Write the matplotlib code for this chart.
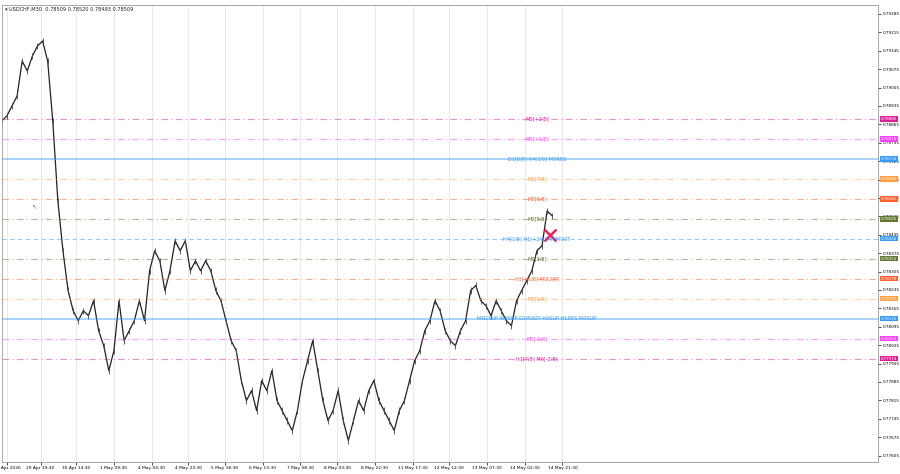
import matplotlib.pyplot as plt
import numpy as np

closes = [0.78878, 0.78897, 0.78935, 0.78973, 0.79106, 0.79068, 0.79125, 0.79163, 0.79182, 0.79106,
          0.78878, 0.78574, 0.78384, 0.78233, 0.78156, 0.78118, 0.78156, 0.78137, 0.78194, 0.78080,
          0.78023, 0.77928, 0.78004, 0.78194, 0.78042, 0.78080, 0.78118, 0.78194, 0.78118, 0.78308,
          0.78384, 0.78346, 0.78233, 0.78308, 0.78422, 0.78384, 0.78422, 0.78308, 0.78346, 0.78308,
          0.78346, 0.78308, 0.78233, 0.78194, 0.78118, 0.78042, 0.78004, 0.77890, 0.77814, 0.77852,
          0.77776, 0.77890, 0.77852, 0.77928, 0.77814, 0.77776, 0.77738, 0.77700, 0.77776, 0.77890,
          0.77966, 0.78042, 0.77928, 0.77814, 0.77738, 0.77776, 0.77852, 0.77738, 0.77662, 0.77738,
          0.77814, 0.77776, 0.77852, 0.77890, 0.77814, 0.77776, 0.77738, 0.77700, 0.77776, 0.77814,
          0.77890, 0.77966, 0.78004, 0.78080, 0.78118, 0.78194, 0.78156, 0.78080, 0.78042, 0.78023,
          0.78080, 0.78118, 0.78233, 0.78252, 0.78194, 0.78175, 0.78137, 0.78194, 0.78156, 0.78118,
          0.78099, 0.78194, 0.78233, 0.78270, 0.78308, 0.78384, 0.78403, 0.78536, 0.78517]

# (price, label, colour, style)
levels = [
    (0.78886, "M0[+2/8]", "#e0209a", (0, (6, 3, 1, 3))),
    (0.78810, "M0[+1/8]", "#ff40ff", (0, (6, 3, 1, 3))),
    (0.78734, "D1[8/8] H4[3/8] M0RES", "#3399ff", "-"),
    (0.78658, "M0[7/8]", "#ffa040", (0, (6, 3, 1, 3))),
    (0.78582, "M0[6/8]", "#ff6030", (0, (6, 3, 1, 3))),
    (0.78506, "M0[5/8]", "#667733", (0, (6, 3, 1, 3))),
    (0.78430, "H4[1/8] H1[+2/8] M0PIVOT", "#3399ff", (0, (4, 3))),
    (0.78354, "M0[3/8]", "#667733", (0, (6, 3, 1, 3))),
    (0.78278, "H1[+1/8] M0[2/8]", "#ff6030", (0, (6, 3, 1, 3))),
    (0.78202, "M0[1/8]", "#ffa040", (0, (6, 3, 1, 3))),
    (0.78126, "MN1SUP W1SUP D1PIVOT H4SUP H1RES M0SUP", "#3399ff", "-"),
    (0.78050, "M0[-1/8]", "#ff40ff", (0, (6, 3, 1, 3))),
    (0.77974, "H1[7/8] M0[-2/8]", "#e0209a", (0, (6, 3, 1, 3))),
]

tick_pos = [1, 7.6, 14.6, 22, 29.4, 36.6, 43.8, 51.2, 58.6, 65.8, 73.2, 80.6, 87.8, 95.2, 102.6, 110]
tick_labels = ["29 Apr 2026", "29 Apr 19:30", "30 Apr 14:30", "1 May 09:30", "4 May 04:30",
               "4 May 23:30", "5 May 18:30", "6 May 13:30", "7 May 08:30", "8 May 03:30",
               "8 May 22:30", "11 May 17:30", "12 May 12:30", "13 May 07:30", "14 May 02:30",
               "14 May 21:30"]
price_ticks = [0.79285, 0.79215, 0.79145, 0.79075, 0.79005, 0.78935, 0.78865, 0.78795,
               0.78725, 0.78655, 0.78585, 0.78515, 0.78445, 0.78375, 0.78305, 0.78235,
               0.78165, 0.78095, 0.78025, 0.77955, 0.77885, 0.77815, 0.77745, 0.77675, 0.77605]

fig = plt.figure(figsize=(9, 4.74), dpi=100)
ax = fig.add_axes([0.002, 0.025, 0.974, 0.965])

x = np.arange(len(closes))
ax.plot(x, closes, color="#222222", lw=0.9)
ax.vlines(x, np.array(closes) - 0.00012, np.array(closes) + 0.00012, color="#444444", lw=0.6)

for price, label, col, ls in levels:
    lw = 1.2 if ls == "-" else 0.8
    ax.axhline(price, color=col, ls=ls, lw=lw, alpha=0.5)
    ax.text(105, price, label, color=col, fontsize=3.6, ha="center", va="center")
    ax.text(1.003, price, f"{price:.5f}", transform=ax.get_yaxis_transform(), color="white",
            fontsize=2.8, va="center", ha="left",
            bbox=dict(boxstyle="square,pad=0.2", fc=col, ec="none"))

ax.plot([107.5], [0.78445], marker="x", ms=9, mew=1.8, color="#ee2255")
ax.text(6, 0.78545, "↖", fontsize=5, color="#888888")

ax.set_xlim(0, 172)
ax.set_ylim(0.77580, 0.79320)
ax.set_xticks(tick_pos)
ax.set_xticklabels(tick_labels, fontsize=3.2)
ax.set_yticks(price_ticks)
ax.set_yticklabels([f"{p:.5f}" for p in price_ticks], fontsize=3.0)
ax.yaxis.tick_right()
ax.tick_params(length=2, width=0.5, pad=1)
ax.grid(axis="x", color="#e6e6e6", lw=0.6)
for s in ax.spines.values():
    s.set_color("#999999")
    s.set_linewidth(0.6)

ax.text(0.004, 0.995, "▾ USDCHF,M30  0.78509 0.78520 0.78493 0.78509", transform=ax.transAxes,
        fontsize=3.6, va="top", color="#222222")

fig.savefig("out.png", dpi=100)
